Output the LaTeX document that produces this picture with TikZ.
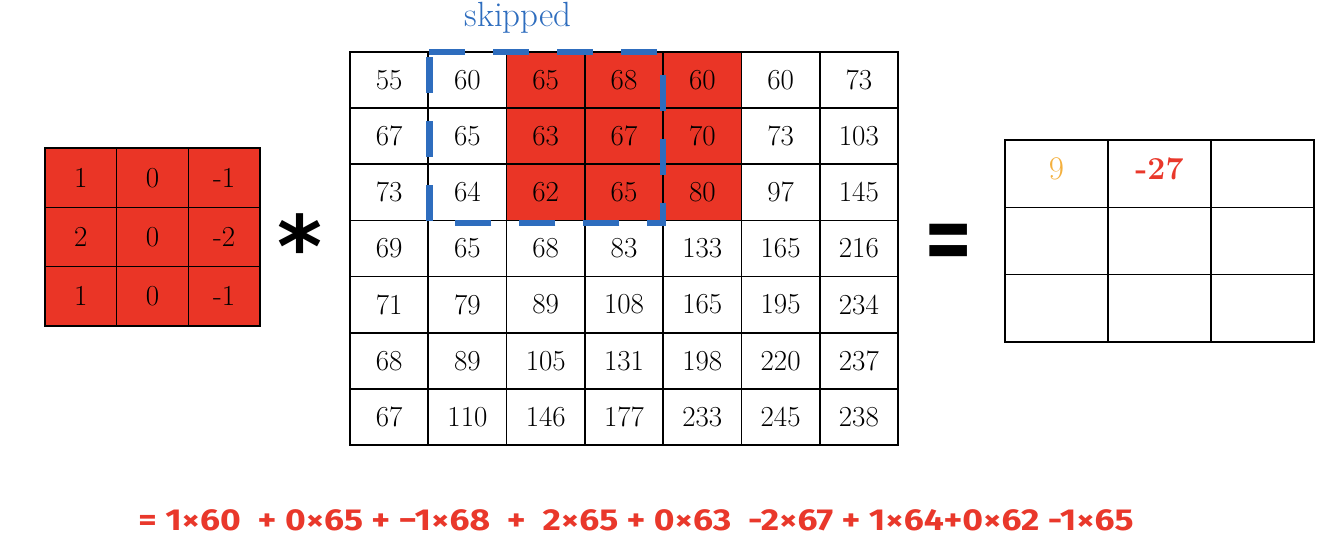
\documentclass[tikz,border=0pt]{standalone}
\usepackage{fontspec}
\usepackage{graphicx}
\newfontfamily\firaf{Fira Sans}
\newfontfamily\djvf{DejaVu Sans}
\usetikzlibrary{calc}
\definecolor{kred}{HTML}{EA3526}
\definecolor{fblue}{HTML}{2E6DBE}
\definecolor{forange}{HTML}{F4B03E}
\definecolor{fred}{HTML}{E9382B}
\tikzset{
  cellbase/.style={draw=black, line width=1.6pt, inner sep=0pt, font=\fontsize{29}{32}\selectfont},
  kcell/.style={cellbase, fill=kred, minimum width=71.67pt, minimum height=59.33pt},
  gcell/.style={cellbase, minimum width=78.29pt, minimum height=56.14pt},
  ocell/.style={cellbase, minimum width=103pt, minimum height=67.33pt},
  skipbox/.style={draw=fblue, line width=6.5pt, dash pattern=on 36pt off 28pt},
}
\begin{document}
\begin{tikzpicture}[x=1pt,y=-1pt]
\useasboundingbox (0,0) rectangle (1342,558);
% kernel
\foreach \row [count=\r from 0] in {{1,0,-1},{2,0,-2},{1,0,-1}} {
  \foreach \v [count=\c from 0] in \row {
    \node[kcell] (k-\r-\c) at ({45+71.67*(\c+0.5)}, {148+59.33*(\r+0.5)}) {\v};
  }
}
% image grid
\foreach \row [count=\r from 0] in {{55,60,65,68,60,60,73},{67,65,63,67,70,73,103},{73,64,62,65,80,97,145},{69,65,68,83,133,165,216},{71,79,89,108,165,195,234},{68,89,105,131,198,220,237},{67,110,146,177,233,245,238}} {
  \foreach \v [count=\c from 0] in \row {
    \pgfmathtruncatemacro\isred{and(\r<3,and(\c>1,\c<5))}
    \ifnum\isred=1 \def\fc{kred}\else\def\fc{white}\fi
    \node[gcell, fill=\fc] (g-\r-\c) at ({350+78.29*(\c+0.5)}, {52+56.14*(\r+0.5)}) {\v};
  }
}
% output grid
\foreach \r in {0,1,2} {
  \foreach \c in {0,1,2} {
    \node[ocell] (o-\r-\c) at ({1005+103*(\c+0.5)}, {140+67.33*(\r+0.5)}) {};
  }
}
\node[text=forange, font=\fontsize{33}{36}\selectfont, inner sep=0pt] (v9) at ($(o-0-0.center)+(0,-5)$) {9};
\node[text=fred, font=\fontsize{32}{36}\selectfont\bfseries, inner sep=0pt] (v27) at ($(o-0-1.center)+(0,-5)$) {-27};
% skipped window
\coordinate (sw1) at ($(g-0-1.north west)+(2,1)$);
\coordinate (sw2) at ($(g-2-3.south east)+(-1,2)$);
\draw[skipbox] (sw1) -- (sw1 -| sw2) -- (sw2) -- (sw2 -| sw1) -- cycle;
\node[text=fblue, font=\fontsize{35}{38}\selectfont, inner sep=0pt] (skip) at (518,18) {skipped};
% operators
\node[font=\djvf\bfseries\fontsize{86}{90}\selectfont, inner sep=0pt, anchor=base] (ast) at (300,277) {*};
\node[font=\djvf\bfseries\fontsize{60}{64}\selectfont, inner sep=0pt] (eq) at (949,247) {\scalebox{1}[1.6]{=}};
% formula
\node[text=fred, inner sep=0pt] (formula) at (636,520) {\resizebox{995pt}{21pt}{\firaf\bfseries = 1×60\ \ + 0×65 + −1×68\ \ +\ \ 2×65 + 0×63\ \ -2×67 + 1×64+0×62 -1×65}};
\end{tikzpicture}
\end{document}
